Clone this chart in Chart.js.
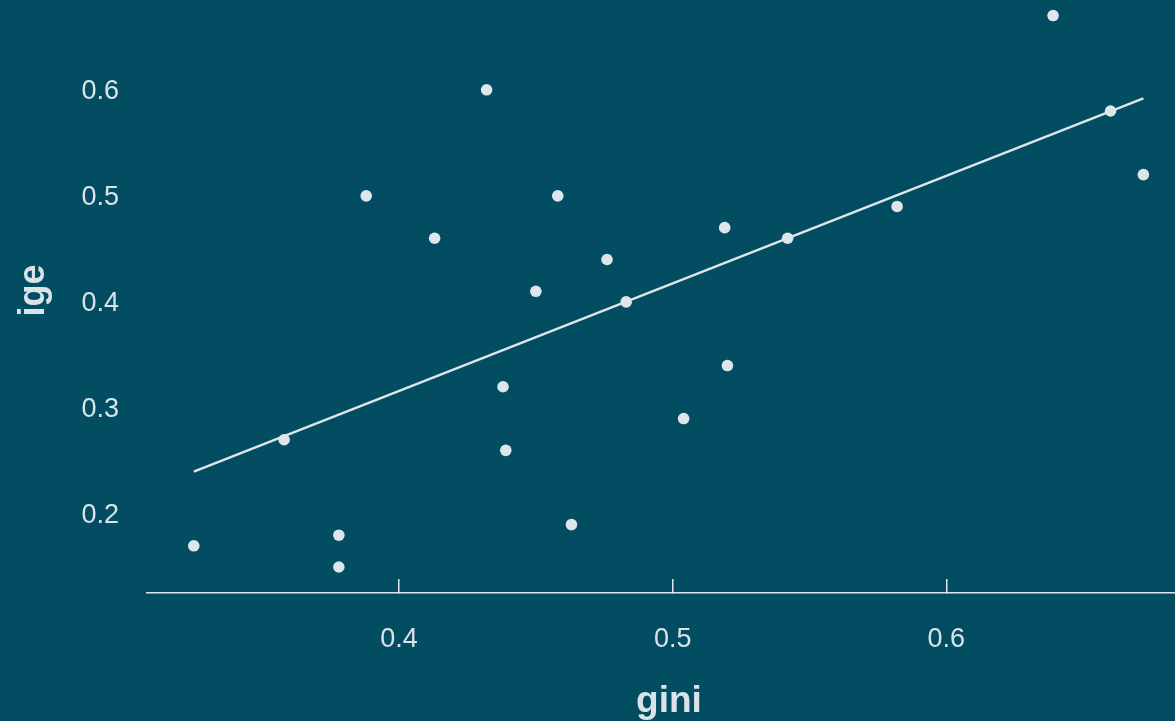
<!DOCTYPE html>
<html>
<head>
<meta charset="utf-8">
<script src="https://cdn.jsdelivr.net/npm/chart.js@4/dist/chart.umd.min.js"></script>
<style>
  html, body { margin: 0; padding: 0; background: #024d62; overflow: hidden; width: 1175px; height: 721px; }
  /* the plot panel runs a little past the right and top edges of the picture */
  #wrap { position: absolute; left: 0; top: -12px; width: 1191px; height: 733px; }
</style>
</head>
<body>
<div id="wrap"><canvas id="scatterChart"></canvas></div>
<script>
// gini vs ige
const gini = [0.325, 0.358, 0.378, 0.378, 0.388, 0.413, 0.432, 0.438, 0.439, 0.450, 0.458,
              0.463, 0.476, 0.483, 0.504, 0.519, 0.520, 0.542, 0.582, 0.639, 0.660, 0.672];
const ige  = [0.17, 0.27, 0.18, 0.15, 0.50, 0.46, 0.60, 0.32, 0.26, 0.41, 0.50,
              0.19, 0.44, 0.40, 0.29, 0.47, 0.34, 0.46, 0.49, 0.67, 0.58, 0.52];

// fitted line end points
const fitX = [0.325, 0.672];
const fitY = [0.240, 0.592];

const xTicks = [0.4, 0.5, 0.6];
const yTicks = [0.2, 0.3, 0.4, 0.5, 0.6];

const textColor = '#dbe3e8';
const markColor = '#dfe6eb';

const points = gini.map((g, i) => ({ x: g, y: ige[i] }));
const fitLine = fitX.map((x, i) => ({ x: x, y: fitY[i] }));

// no extra room round the plot, the axes sit right on the edges
function noPadding(scale) {
    scale.paddingTop = 0;
    scale.paddingBottom = 0;
    scale.paddingLeft = 0;
    scale.paddingRight = 0;
}

const ctx = document.getElementById('scatterChart').getContext('2d');

new Chart(ctx, {
    type: 'scatter',
    data: {
        datasets: [
            {
                label: 'fit',
                type: 'line',
                data: fitLine,
                borderColor: markColor,
                borderWidth: 2.5,
                pointRadius: 0,
                fill: false
            },
            {
                label: 'countries',
                data: points,
                backgroundColor: markColor,
                borderWidth: 0,
                pointRadius: 5.8
            }
        ]
    },
    options: {
        responsive: true,
        maintainAspectRatio: false,
        animation: false,
        layout: { padding: 0, autoPadding: false },
        plugins: {
            legend: { display: false },
            tooltip: { enabled: false }
        },
        scales: {
            x: {
                type: 'linear',
                min: 0.3079,
                max: 0.6894,
                afterBuildTicks: scale => { scale.ticks = xTicks.map(v => ({ value: v })); },
                afterFit: scale => { scale.height = 128; noPadding(scale); },
                border: { display: true, color: markColor, width: 1.5 },
                grid: {
                    display: true,
                    drawOnChartArea: false,
                    drawTicks: true,
                    tickLength: -14,
                    color: markColor,
                    lineWidth: 1.5
                },
                ticks: {
                    color: textColor,
                    padding: 44,
                    font: { family: 'Liberation Sans, Arial, sans-serif', size: 27 },
                    callback: v => v.toFixed(1)
                },
                title: {
                    display: true,
                    text: 'gini',
                    color: textColor,
                    padding: { top: 0, bottom: -3 },
                    font: { family: 'Liberation Sans, Arial, sans-serif', size: 37, weight: 'bold' }
                }
            },
            y: {
                type: 'linear',
                min: 0.1255,
                max: 0.696,
                afterBuildTicks: scale => { scale.ticks = yTicks.map(v => ({ value: v })); },
                afterFit: scale => { scale.width = 147; noPadding(scale); },
                border: { display: false },
                grid: { display: false, drawTicks: false },
                ticks: {
                    color: textColor,
                    padding: 28,
                    labelOffset: 2,
                    font: { family: 'Liberation Sans, Arial, sans-serif', size: 27 },
                    callback: v => v.toFixed(1)
                },
                title: {
                    display: true,
                    text: 'ige',
                    color: textColor,
                    padding: { top: 12, bottom: 0 },
                    font: { family: 'Liberation Sans, Arial, sans-serif', size: 36, weight: 'bold' }
                }
            }
        }
    }
});
</script>
</body>
</html>
